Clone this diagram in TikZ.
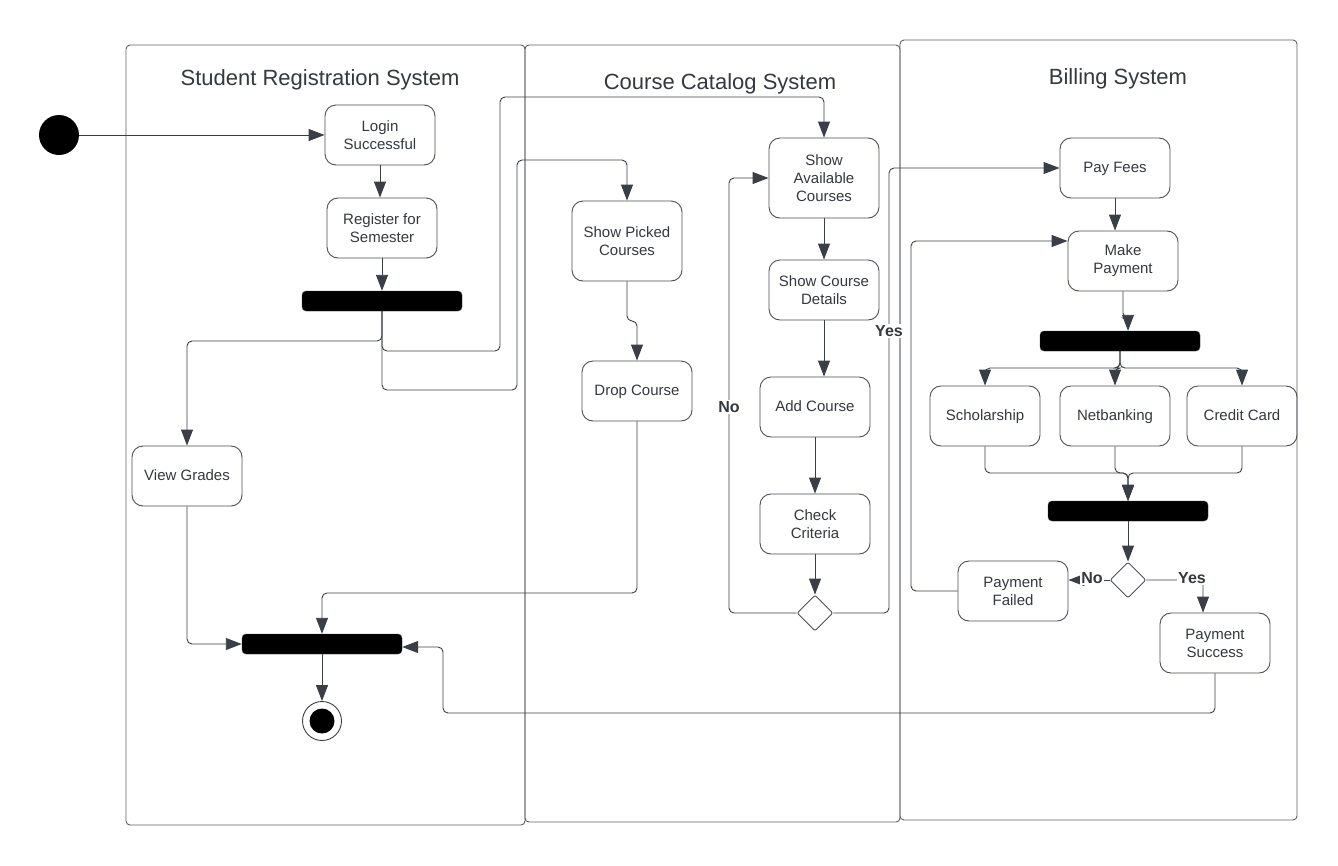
\documentclass[tikz,border=0pt]{standalone}
\usepackage{fontspec}
\setmainfont{Liberation Sans}
\usetikzlibrary{arrows.meta,shapes.geometric,calc}
\definecolor{ink}{HTML}{3A3F47}
\definecolor{txt}{HTML}{343940}
\definecolor{frame}{HTML}{4A4F57}
\definecolor{laneline}{HTML}{5C6168}

\begin{document}
\begin{tikzpicture}[x=1pt,y=-1pt,
  every node/.style={text=txt},
  lane/.style={draw=laneline,line width=0.9pt,rounded corners=4},
  lanetitle/.style={font=\fontsize{22}{26}\selectfont,inner sep=0,anchor=base},
  act/.style={draw=frame,line width=0.9pt,rounded corners=11,minimum width=110,
    minimum height=60,align=center,font=\fontsize{15}{18}\selectfont,inner sep=2},
  tall/.style={minimum height=80},
  oneline/.style={text height=11pt,text depth=3pt},
  bar/.style={fill=black,draw=ink,rounded corners=4,minimum width=160,minimum height=20,inner sep=0},
  dec/.style={diamond,draw=frame,line width=0.9pt,minimum width=36,minimum height=36,
    inner sep=0,rounded corners=2},
  flow/.style={draw=ink,line width=0.9pt,rounded corners=5,
    -{Triangle[length=16pt,width=12pt]}},
  guard/.style={fill=white,font=\bfseries\fontsize{16}{19}\selectfont,inner sep=1},
]
\useasboundingbox (0,0) rectangle (1338,865);
\fill[white] (0,0) rectangle (1338,865);

% swimlanes
\draw[lane] (126,45) rectangle (525,825);
\draw[lane] (525,45) rectangle (900,822);
\draw[lane] (900,40) rectangle (1297,820);
\node[lanetitle] (t1) at (320,85) {Student Registration System};
\node[lanetitle] (t2) at (720,89) {Course Catalog System};
\node[lanetitle] (t3) at (1118,84) {Billing System};

% student registration
\node[circle,fill=black,minimum size=40,inner sep=0] (start) at (59,135) {};
\node[act] (login) at (380,135) {Login\\Successful};
\node[act] (reg) at (382,228) {Register for\\Semester};
\node[bar] (fork1) at (382,301) {};
\node[act,oneline] (vg) at (187,476) {View Grades};
\node[bar] (join1) at (322,644) {};
\node[circle,draw=ink,line width=0.9pt,minimum size=39,inner sep=0] (fin) at (322,721) {};
\fill[black] (fin.center) circle (12.5);

% course catalog
\node[act,tall] (spc) at (627,241) {Show Picked\\Courses};
\node[act,oneline] (drop) at (637,391) {Drop Course};
\node[act,tall] (sac) at (824,178) {Show\\Available\\Courses};
\node[act] (sdet) at (824,290) {Show Course\\Details};
\node[act,oneline] (add) at (815,407) {Add Course};
\node[act] (chk) at (815,524) {Check\\Criteria};
\node[dec] (dia1) at (815,613) {};

% billing
\node[act,oneline] (pay) at (1115,168) {Pay Fees};
\node[act] (mp) at (1123,261) {Make\\Payment};
\node[bar] (fork2) at (1120,341) {};
\node[act,oneline] (sch) at (985,416) {Scholarship};
\node[act,oneline] (nb) at (1115,416) {Netbanking};
\node[act,oneline] (cc) at (1242,416) {Credit Card};
\node[bar] (join2) at (1128,511) {};
\node[dec] (dia2) at (1128,580) {};
\node[act] (pf) at (1013,591) {Payment\\Failed};
\node[act] (ps) at (1215,643) {Payment\\Success};

% flows: student registration
\draw[flow] (start) -- (login.west);
\draw[flow] (login.south) -- (login.south |- reg.north);
\draw[flow] (reg.south) -- (fork1.north);
\draw[flow] (fork1.south) -- (382,341) -| (vg.north);
\draw[flow] (fork1.south) -- (382,351) -- (500,351) -- (500,97) -| (sac.north);
\draw[flow] (fork1.south) -- (382,390) -- (517,390) -- (517,160) -| (spc.north);
\draw[flow] (vg.south) |- (join1.west);
\draw[flow] (join1.south) -- (fin.north);

% flows: course catalog
\draw[flow] (spc.south) -- (627,321) -- (637,321) -- (drop.north);
\draw[flow] (drop.south) -- (637,593) -| (join1.north);
\draw[flow] (sac.south) -- (sdet.north);
\draw[flow] (sdet.south) -- (sdet.south |- add.north);
\draw[flow] (add.south) -- (chk.north);
\draw[flow] (chk.south) -- (dia1.north);
\draw[flow] (dia1.west) -- (729,613) |- (sac.west);
\draw[flow] (dia1.east) -- (889,613) |- (pay.west);
\node[guard] (gno1) at (729,407) {No};
\node[guard] (gyes1) at (889,331) {Yes};

% flows: billing
\draw[flow] (pay.south) -- (pay.south |- mp.north);
\draw[flow] (mp.south) -- (1123,318) -- (1128,318) -- ($(fork2.north)+(8,0)$);
\draw[flow] (fork2.south) -- (1120,368) -| (sch.north);
\draw[flow] (fork2.south) -- (1120,368) -| (nb.north);
\draw[flow] (fork2.south) -- (1120,368) -| (cc.north);
\draw[flow] (sch.south) -- (985,473) -| (join2.north);
\draw[flow] (nb.south) -- (1115,473) -| (join2.north);
\draw[flow] (cc.south) -- (1242,473) -| (join2.north);
\draw[flow] (join2.south) -- (dia2.north);
\draw[flow] (dia2.west) -- (dia2.west -| pf.east);
\draw[flow] (dia2.east) -- (1203,580) -- ($(ps.north)+(-12,0)$);
\node[guard] (gno2) at (1092,578) {No};
\node[guard] (gyes2) at (1192,578) {Yes};
\draw[flow] (pf.west) -- (911,591) |- ($(mp.west)+(0,-20)$);
\draw[flow] (ps.south) -- (1215,713) -- (443,713) -- (443,647) -- ($(join1.east)+(0,3)$);
\end{tikzpicture}
\end{document}
